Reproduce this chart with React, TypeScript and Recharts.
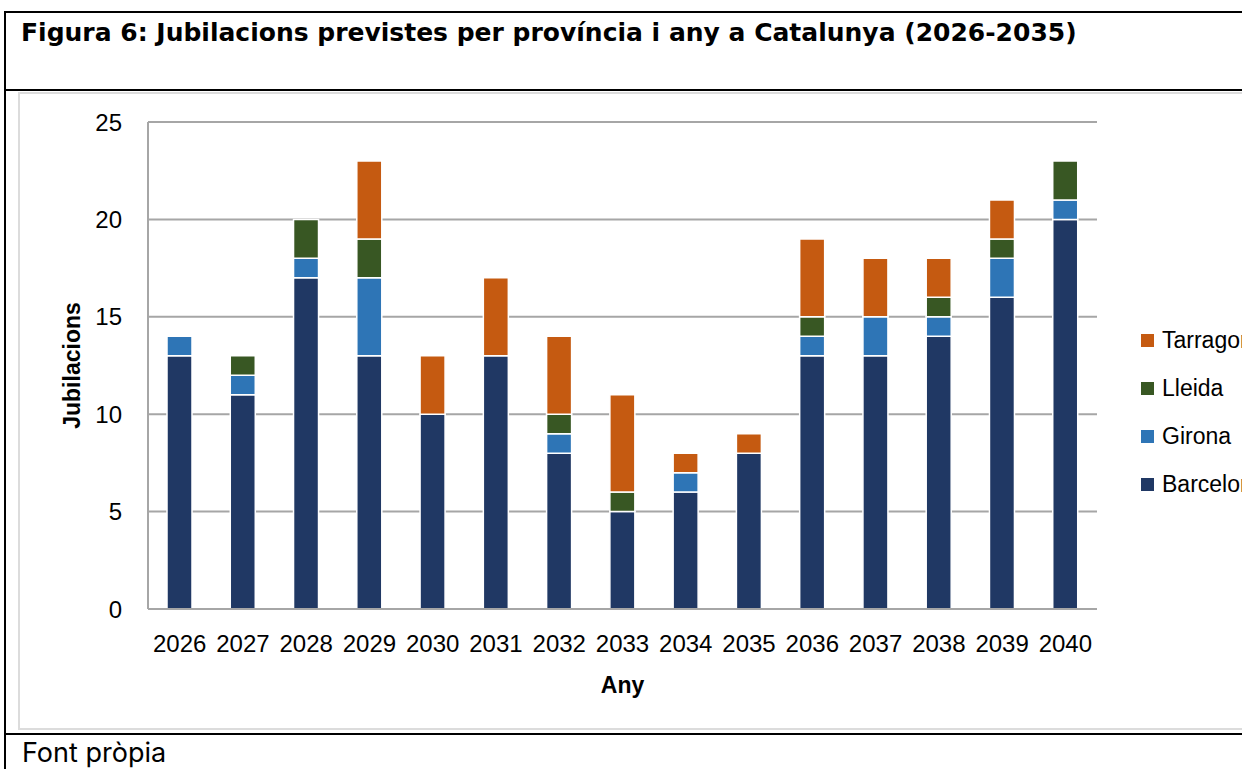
import React from 'react';
import { BarChart, Bar, XAxis, YAxis, CartesianGrid, Legend } from 'recharts';

const years = ['2026', '2027', '2028', '2029', '2030', '2031', '2032', '2033', '2034', '2035', '2036', '2037', '2038', '2039', '2040'];
const barcelona = [13, 11, 17, 13, 10, 13, 8, 5, 6, 8, 13, 13, 14, 16, 20];
const girona = [1, 1, 1, 4, 0, 0, 1, 0, 1, 0, 1, 2, 1, 2, 1];
const lleida = [0, 1, 2, 2, 0, 0, 1, 1, 0, 0, 1, 0, 1, 1, 2];
const tarragona = [0, 0, 0, 4, 3, 4, 4, 5, 1, 1, 4, 3, 2, 2, 0];
const yTicks = [0, 5, 10, 15, 20, 25];

const series = [
  { key: 'Barcelona', values: barcelona, color: '#203864' },
  { key: 'Girona', values: girona, color: '#2E75B6' },
  { key: 'Lleida', values: lleida, color: '#385723' },
  { key: 'Tarragona', values: tarragona, color: '#C55A11' },
];

const data = years.map((year, i) => {
  const row: Record<string, string | number> = { year };
  series.forEach((s) => {
    row[s.key] = s.values[i];
  });
  return row;
});

const FONT = '"Liberation Sans", Arial, sans-serif';
const HEAD_FONT = 'Inter, "Noto Sans", sans-serif';

const LegendBox = () => (
  <div style={{ fontFamily: FONT, fontSize: 23, color: '#000' }}>
    {[...series].reverse().map((s) => (
      <div key={s.key} style={{ display: 'flex', alignItems: 'center', height: 48, whiteSpace: 'nowrap' }}>
        <span style={{ width: 13, height: 13, background: s.color, display: 'inline-block', marginRight: 8 }} />
        <span>{s.key}</span>
      </div>
    ))}
  </div>
);

export default function App() {
  return (
    <div
      style={{
        position: 'fixed',
        left: 0,
        top: 0,
        width: 1242,
        height: 769,
        overflow: 'hidden',
        background: '#fff',
        fontFamily: FONT,
      }}
    >
      {/* table frame */}
      <div style={{ position: 'absolute', left: 5, top: 11, width: 1300, height: 2, background: '#000' }} />
      <div style={{ position: 'absolute', left: 4, top: 11, width: 2, height: 800, background: '#000' }} />
      <div style={{ position: 'absolute', left: 5, top: 89, width: 1300, height: 1.5, background: '#000' }} />
      <div style={{ position: 'absolute', left: 5, top: 733, width: 1300, height: 2, background: '#000' }} />
      <div
        style={{
          position: 'absolute',
          left: 21,
          top: 18,
          fontSize: 25,
          lineHeight: '30px',
          fontWeight: 700,
          fontFamily: '"DejaVu Sans", sans-serif',
          color: '#000',
          whiteSpace: 'nowrap',
        }}
      >
        Figura 6: Jubilacions previstes per província i any a Catalunya (2026-2035)
      </div>
      <div
        style={{
          position: 'absolute',
          left: 22,
          top: 739,
          fontSize: 27,
          lineHeight: '27px',
          fontFamily: HEAD_FONT,
          color: '#000',
          whiteSpace: 'nowrap',
        }}
      >
        Font pròpia
      </div>
      {/* chart area frame */}
      <div
        style={{
          position: 'absolute',
          left: 18,
          top: 92,
          width: 1300,
          height: 638,
          border: '2px solid #dcdcdc',
          boxSizing: 'border-box',
        }}
      />
      <div style={{ position: 'absolute', left: 18, top: 92 }}>
        <BarChart
          width={1300}
          height={640}
          data={data}
          margin={{ top: 30, right: 221, left: 0, bottom: 33 }}
          barSize={25}
        >
          <CartesianGrid vertical={false} stroke="#a6a6a6" strokeWidth={2} />
          <XAxis
            dataKey="year"
            height={90}
            tickLine={false}
            tickSize={6}
            tickMargin={20}
            axisLine={{ stroke: '#a6a6a6', strokeWidth: 2 }}
            tick={{ fill: '#000', fontSize: 24, fontFamily: FONT }}
            interval={0}
            label={{
              value: 'Any',
              position: 'insideBottom',
              offset: 6,
              style: { fill: '#000', fontSize: 23, fontWeight: 700, fontFamily: FONT },
            }}
          />
          <YAxis
            width={130}
            domain={[0, 25]}
            ticks={yTicks}
            tickLine={false}
            tickSize={6}
            tickMargin={20}
            axisLine={{ stroke: '#a6a6a6', strokeWidth: 2 }}
            tick={{ fill: '#000', fontSize: 24, fontFamily: FONT }}
            label={{
              value: 'Jubilacions',
              angle: -90,
              position: 'insideLeft',
              offset: 54,
              style: { textAnchor: 'middle', fill: '#000', fontSize: 23, fontWeight: 700, fontFamily: FONT },
            }}
          />
          <Legend
            layout="vertical"
            align="center"
            verticalAlign="middle"
            content={<LegendBox />}
            wrapperStyle={{ left: 1123, top: 224, width: 200 }}
          />
          {series.map((s) => (
            <Bar
              key={s.key}
              dataKey={s.key}
              stackId="a"
              fill={s.color}
              stroke="#fff"
              strokeWidth={1.5}
              isAnimationActive={false}
            />
          ))}
        </BarChart>
      </div>
    </div>
  );
}
